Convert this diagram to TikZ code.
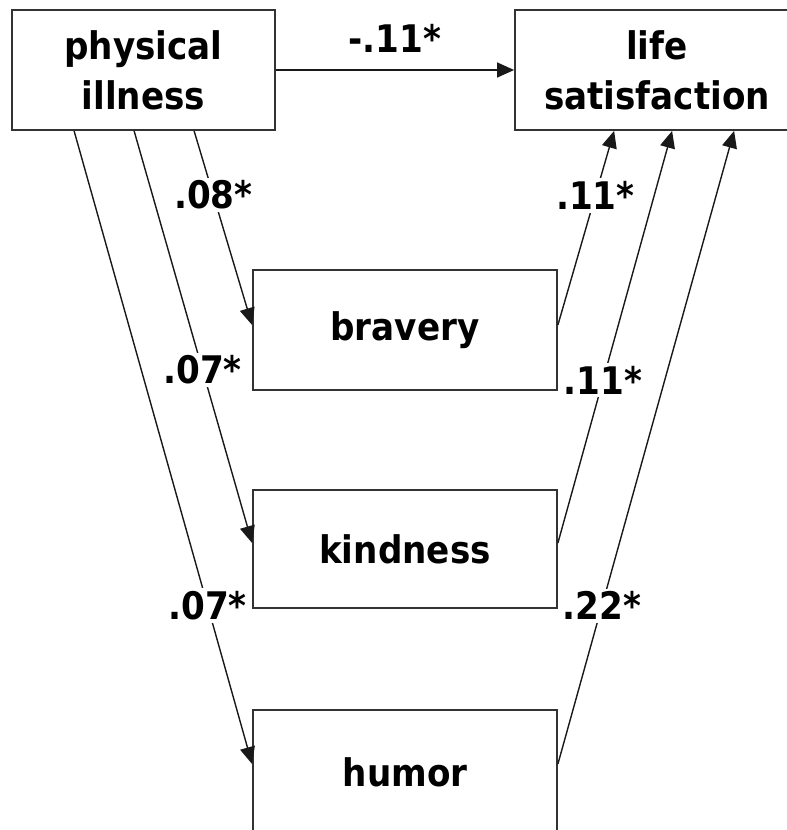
\documentclass[tikz,border=0pt]{standalone}
\usepackage{fontspec}
\setmainfont{DejaVu Sans Condensed}[BoldFont={DejaVu Sans Condensed Bold}]
\usetikzlibrary{arrows.meta}
\begin{document}
\begin{tikzpicture}[x=1pt,y=-1pt,
  txt/.style={font=\bfseries\fontsize{38}{50}\selectfont},
  box/.style={draw=black!80, line width=1.8pt, txt, inner sep=0pt, align=center},
  arr/.style={draw=black!90, line width=1.4pt, -{Triangle[length=17pt,width=15pt]}},
  coef/.style={txt, fill=white, inner sep=3pt}]
\useasboundingbox (0,0) rectangle (787,830);
\clip (0,0) rectangle (787,830);
\node[box, minimum width=263pt, minimum height=120pt] (phys) at (143.5,70) {physical\\illness};
\node[box, minimum width=284pt, minimum height=120pt] (life) at (657,70) {life\\satisfaction};
\node[box, minimum width=304pt, minimum height=120pt] (brav) at (405,330) {bravery};
\node[box, minimum width=304pt, minimum height=118pt] (kind) at (405,549) {kindness};
\node[box, minimum width=304pt, minimum height=124pt] (hum) at (405,772) {humor};
\draw[arr] (phys.east) -- node[txt, inner sep=0pt, above=17pt]{-.11*} (life.west);
\draw[arr] ([xshift=183pt]phys.south west) -- node[coef, pos=0.33]{.08*} ([yshift=5pt]brav.west);
\draw[arr] ([xshift=123pt]phys.south west) -- node[coef, pos=0.58]{.07*} ([yshift=6pt]kind.west);
\draw[arr] ([xshift=63pt]phys.south west) -- node[coef, pos=0.75]{.07*} ([yshift=8pt]hum.west);
\draw[arr] ([yshift=5pt]brav.east) -- node[coef, pos=0.667]{.11*} ([xshift=100pt]life.south west);
\draw[arr] ([yshift=6pt]kind.east) -- node[coef, pos=0.395]{.11*} ([xshift=158pt]life.south west);
\draw[arr] ([yshift=8pt]hum.east) -- node[coef, pos=0.25]{.22*} ([xshift=220pt]life.south west);
\end{tikzpicture}
\end{document}
